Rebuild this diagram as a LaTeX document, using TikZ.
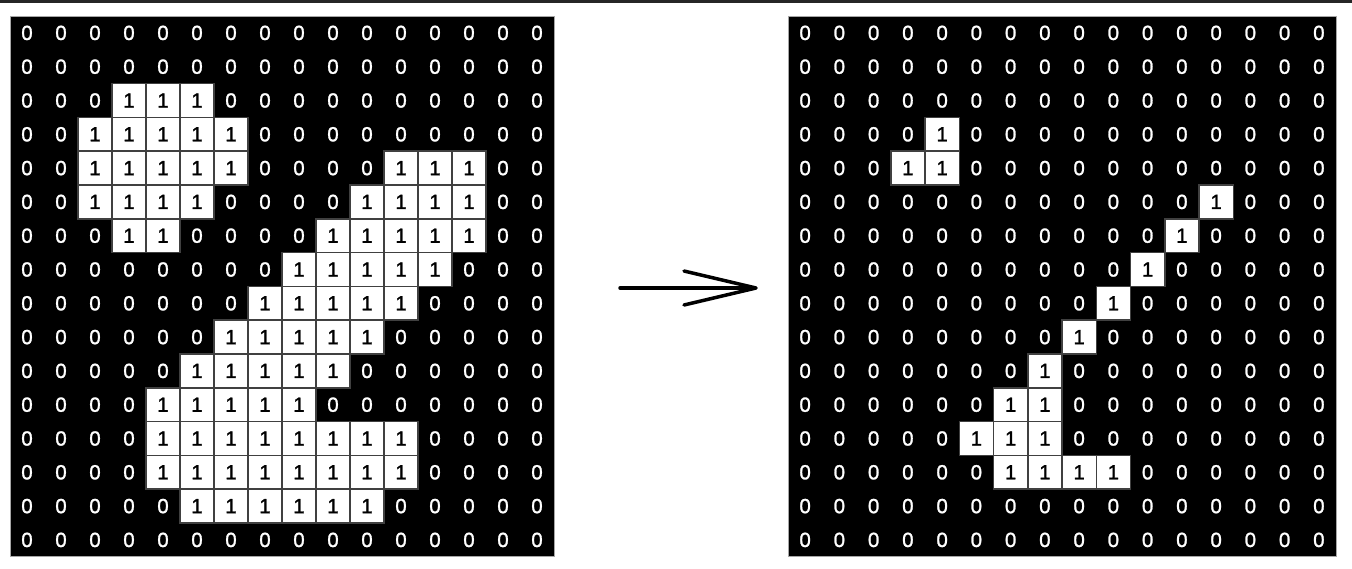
\documentclass[tikz,border=0pt]{standalone}
\usepackage{fontspec}
\setmainfont{Liberation Sans}
\newfontfamily\celldigits[FakeBold=1.2]{Liberation Sans}
\newcommand\drawbingrid[6]{%
  \path[gridbg] (#2,#3) rectangle ++(16*#4,16*#5);
  \foreach \rowlist [count=\r from 0] in #6 {
    \foreach \v [count=\c from 0] in \rowlist {
      \pgfmathsetmacro\cx{#2+(\c+0.5)*#4}
      \pgfmathsetmacro\cy{#3+(\r+0.5)*#5}
      \ifnum\v=1\relax
        \path[onecell] (\cx-#4/2,\cy-#5/2) rectangle ++(#4,#5);
        \node[onetext] (#1-\r-\c) at (\cx,\cy) {1};
      \else
        \node[zerotext] (#1-\r-\c) at (\cx,\cy) {0};
      \fi
    }
  }
}
\begin{document}
\begin{tikzpicture}[x=1pt,y=-1pt,
  zerotext/.style={text=white,font=\celldigits\fontsize{20.5}{20.5}\selectfont,inner sep=0pt},
  onetext/.style={text=black,font=\celldigits\fontsize{20.5}{20.5}\selectfont,inner sep=0pt},
  onecell/.style={fill=white,draw=black!75,line width=1.5pt},
  gridbg/.style={fill=black,draw=black!35,line width=1pt},
  arrowline/.style={line width=3.5pt,line cap=round,line join=round}]
\useasboundingbox (0,0) rectangle (1352,568);
\draw[line width=2.5pt,black!85] (0,1.25) -- (1352,1.25);
\def\leftdata{{0,0,0,0,0,0,0,0,0,0,0,0,0,0,0,0},
{0,0,0,0,0,0,0,0,0,0,0,0,0,0,0,0},
{0,0,0,1,1,1,0,0,0,0,0,0,0,0,0,0},
{0,0,1,1,1,1,1,0,0,0,0,0,0,0,0,0},
{0,0,1,1,1,1,1,0,0,0,0,1,1,1,0,0},
{0,0,1,1,1,1,0,0,0,0,1,1,1,1,0,0},
{0,0,0,1,1,0,0,0,0,1,1,1,1,1,0,0},
{0,0,0,0,0,0,0,0,1,1,1,1,1,0,0,0},
{0,0,0,0,0,0,0,1,1,1,1,1,0,0,0,0},
{0,0,0,0,0,0,1,1,1,1,1,0,0,0,0,0},
{0,0,0,0,0,1,1,1,1,1,0,0,0,0,0,0},
{0,0,0,0,1,1,1,1,1,0,0,0,0,0,0,0},
{0,0,0,0,1,1,1,1,1,1,1,1,0,0,0,0},
{0,0,0,0,1,1,1,1,1,1,1,1,0,0,0,0},
{0,0,0,0,0,1,1,1,1,1,1,0,0,0,0,0},
{0,0,0,0,0,0,0,0,0,0,0,0,0,0,0,0}}
\def\rightdata{{0,0,0,0,0,0,0,0,0,0,0,0,0,0,0,0},
{0,0,0,0,0,0,0,0,0,0,0,0,0,0,0,0},
{0,0,0,0,0,0,0,0,0,0,0,0,0,0,0,0},
{0,0,0,0,1,0,0,0,0,0,0,0,0,0,0,0},
{0,0,0,1,1,0,0,0,0,0,0,0,0,0,0,0},
{0,0,0,0,0,0,0,0,0,0,0,0,1,0,0,0},
{0,0,0,0,0,0,0,0,0,0,0,1,0,0,0,0},
{0,0,0,0,0,0,0,0,0,0,1,0,0,0,0,0},
{0,0,0,0,0,0,0,0,0,1,0,0,0,0,0,0},
{0,0,0,0,0,0,0,0,1,0,0,0,0,0,0,0},
{0,0,0,0,0,0,0,1,0,0,0,0,0,0,0,0},
{0,0,0,0,0,0,1,1,0,0,0,0,0,0,0,0},
{0,0,0,0,0,1,1,1,0,0,0,0,0,0,0,0},
{0,0,0,0,0,0,1,1,1,1,0,0,0,0,0,0},
{0,0,0,0,0,0,0,0,0,0,0,0,0,0,0,0},
{0,0,0,0,0,0,0,0,0,0,0,0,0,0,0,0}}
\drawbingrid{L}{10}{16}{34}{33.8}{\leftdata}
\drawbingrid{R}{788}{16}{34.25}{33.8}{\rightdata}
\coordinate (arrS) at (620,288);
\coordinate (arrT) at (756,288);
\coordinate (barbU) at (684,271);
\coordinate (barbD) at (684,305);
\draw[arrowline] (arrS) -- ([xshift=-5pt]arrT);
\draw[arrowline] (barbU) -- (arrT) -- (barbD);
\end{tikzpicture}
\end{document}
